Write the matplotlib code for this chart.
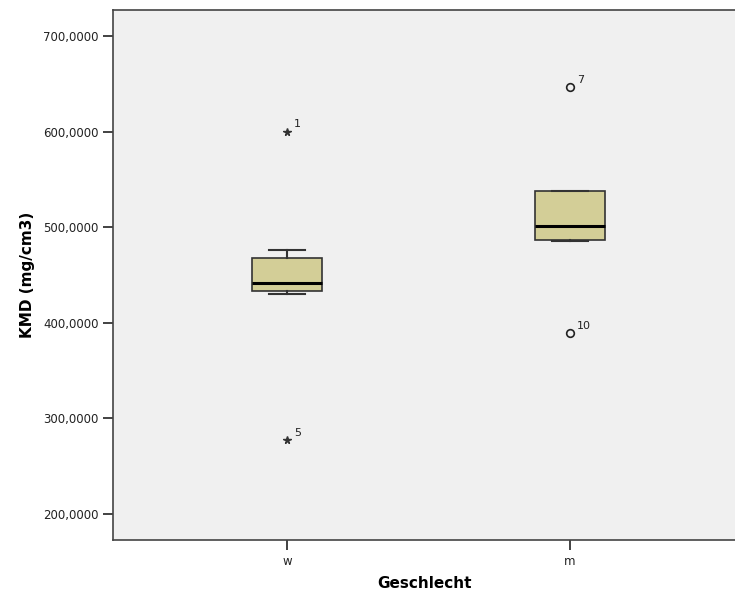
import numpy as np
import matplotlib.pyplot as plt
from matplotlib.ticker import FuncFormatter

# group labels
groups = ['w', 'm']

# box stats
whislo = [430.0, 485.5]
q1 = [433.5, 486.5]
med = [441.5, 501.5]
q3 = [468.0, 538.0]
whishi = [476.0, 538.0]

# outliers (value, case number) -- stars are extremes, circles normal
extreme_vals = [[600.0, 277.0], []]
extreme_ids = [['1', '5'], []]
outlier_vals = [[], [647.0, 389.5]]
outlier_ids = [[], ['7', '10']]

box_color = '#D3CE97'

fig = plt.figure(figsize=(7.35, 5.97), dpi=100)
ax = fig.add_axes([113/735, 1-540/597, 1-113/735, 530/597])
ax.set_facecolor('#F0F0F0')

stats = []
for i in range(len(groups)):
    stats.append(dict(label=groups[i], whislo=whislo[i], q1=q1[i], med=med[i],
                      q3=q3[i], whishi=whishi[i], fliers=[]))

pos = np.arange(1, len(groups) + 1)
ax.bxp(stats, positions=pos, widths=0.25, patch_artist=True, showfliers=False,
       boxprops=dict(facecolor=box_color, edgecolor='#333333', linewidth=1.2),
       medianprops=dict(color='black', linewidth=2.2),
       whiskerprops=dict(color='#333333', linewidth=1.5),
       capprops=dict(color='#333333', linewidth=1.5), capwidths=0.125)

for i, p in enumerate(pos):
    for v, lab in zip(extreme_vals[i], extreme_ids[i]):
        ax.plot(p, v, marker='*', color='#333333', markersize=5.5, linestyle='none')
        ax.annotate(lab, (p, v), xytext=(5, 3), textcoords='offset points',
                    fontsize=8, color='#222222')
    for v, lab in zip(outlier_vals[i], outlier_ids[i]):
        ax.plot(p, v, marker='o', markerfacecolor='none', markeredgecolor='#222222',
                markeredgewidth=1.2, markersize=5.5, linestyle='none')
        ax.annotate(lab, (p, v), xytext=(5, 3), textcoords='offset points',
                    fontsize=8, color='#222222')

ax.set_xlim(0.385, 2.583)
ax.set_ylim(172.8, 727.2)
ax.set_yticks([200, 300, 400, 500, 600, 700])
ax.yaxis.set_major_formatter(FuncFormatter(lambda v, p: f'{v:,.4f}'.replace(',', 'X').replace('.', ',').replace('X', '.')))
ax.set_xticks(pos)
ax.set_xticklabels(groups)
ax.tick_params(axis='both', labelsize=8.5, color='#222222', length=7, width=1.2, labelcolor='#222222')

for s in ['left', 'bottom', 'top']:
    ax.spines[s].set_color('#444444')
    ax.spines[s].set_linewidth(1.2)
ax.spines['right'].set_visible(False)

ax.set_ylabel('KMD (mg/cm3)', fontsize=11, fontweight='bold', labelpad=6)
ax.set_xlabel('Geschlecht', fontsize=11, fontweight='bold', labelpad=6)

fig.savefig('out.png', dpi=100)
